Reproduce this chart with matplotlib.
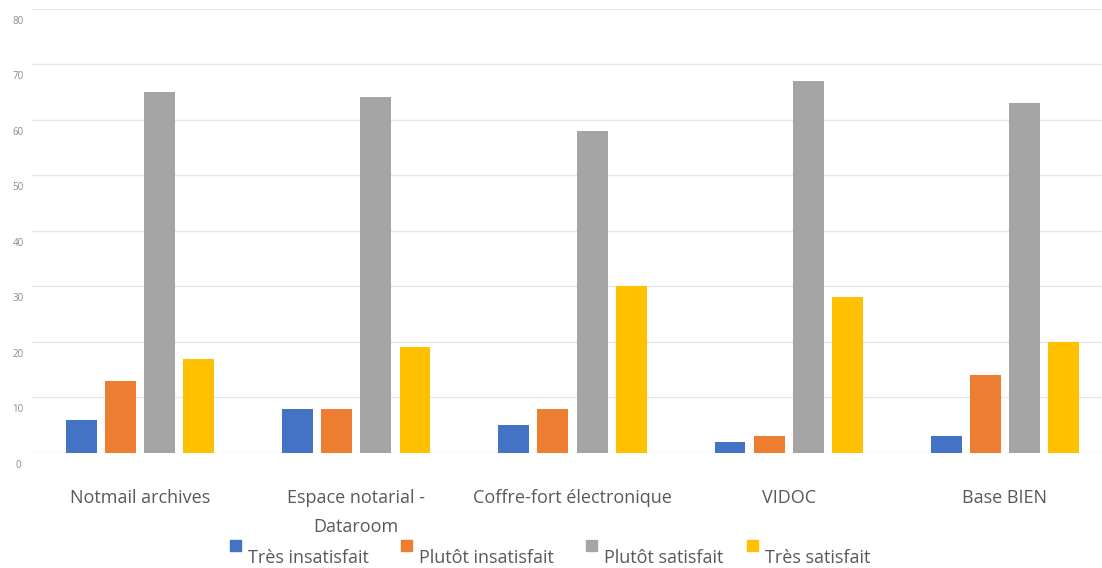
import matplotlib
matplotlib.use("Agg")
import matplotlib.pyplot as plt
import matplotlib.transforms as mtransforms
from matplotlib.patches import Rectangle
import numpy as np

categories = ["Notmail archives", "Espace notarial -\nDataroom", "Coffre-fort électronique", "VIDOC", "Base BIEN"]
series_names = ["Très insatisfait", "Plutôt insatisfait", "Plutôt satisfait", "Très satisfait"]
tres_insatisfait = [6, 8, 5, 2, 3]
plutot_insatisfait = [13, 8, 8, 3, 14]
plutot_satisfait = [65, 64, 58, 67, 63]
tres_satisfait = [17, 19, 30, 28, 20]
yticks = [0, 10, 20, 30, 40, 50, 60, 70, 80]

series = [tres_insatisfait, plutot_insatisfait, plutot_satisfait, tres_satisfait]
colors = ["#4472C4", "#ED7D31", "#A5A5A5", "#FFC000"]

FONT = "Open Sans"
W, H = 1102, 568
fig = plt.figure(figsize=(W / 100, H / 100), dpi=100)
ax = fig.add_axes([32 / W, 1 - 453 / H, (1113 - 32) / W, (453 - 8.5) / H])

x = np.arange(len(categories))
step = 0.181
width = 0.143
for i, (vals, c) in enumerate(zip(series, colors)):
    ax.bar(x + (i - 1.5) * step, vals, width, color=c, edgecolor="none", zorder=3)

ax.set_xlim(-0.5, len(categories) - 0.5)
ax.set_ylim(0, 80)
ax.set_yticks(yticks)
ax.set_yticklabels([])
ax.yaxis.grid(True, color="#E6E6E6", linewidth=1, zorder=0)
ax.tick_params(axis="y", length=0)

# y tick labels drawn slightly below their gridlines, as in the reference
trans = mtransforms.blended_transform_factory(fig.transFigure, ax.transData)
offset = mtransforms.ScaledTranslation(0, -12.5 / 100, fig.dpi_scale_trans)
for v in yticks:
    ax.text(18 / W, v, str(v), transform=trans + offset, fontsize=7, color="#8C8C8C",
            family=FONT, ha="center", va="center")

ax.set_xticks(x)
ax.set_xticklabels(categories, fontsize=13, color="#595959", family=FONT, linespacing=1.8)
ax.tick_params(axis="x", length=0, pad=26)

for s in ax.spines.values():
    s.set_visible(False)

# legend
sq_x = [230, 401, 586, 747]
for i, (name, c) in enumerate(zip(series_names, colors)):
    fig.patches.append(Rectangle((sq_x[i] / W, 1 - 551 / H), 11 / W, 11 / H,
                                 transform=fig.transFigure, color=c, figure=fig))
    fig.text((sq_x[i] + 18) / W, 1 - 558 / H, name, fontsize=13, color="#595959",
             family=FONT, va="center", ha="left")

fig.savefig("out.png", dpi=100)
